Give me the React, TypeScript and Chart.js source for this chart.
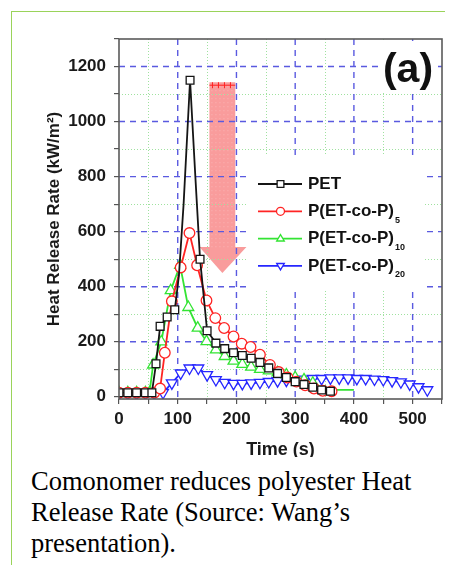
import React, { useEffect, useRef } from "react";
import { Chart, registerables } from "chart.js";

Chart.register(...registerables);

// ---- data ----
const petTime = [0, 15, 30, 45, 56, 63, 70, 82, 95, 102, 110, 121, 130, 138, 150, 165, 180, 195, 210, 225, 240, 255, 270, 285, 300, 315, 330, 345, 360];
const petHRR = [15, 15, 15, 15, 15, 120, 256, 290, 316, 440, 700, 1150, 800, 500, 240, 195, 175, 160, 150, 140, 125, 105, 85, 70, 55, 45, 35, 25, 20];
// PET points drawn without a marker in the reference (steep flanks of the peak)
const petNoMarkerTimes = [102, 110, 130];

const p5Time = [0, 15, 30, 45, 60, 70, 78, 90, 105, 120, 133, 149, 164, 179, 195, 209, 224, 240, 257, 272, 287, 302, 317, 332, 347, 362];
const p5HRR = [15, 15, 15, 15, 15, 30, 160, 347, 470, 595, 478, 350, 286, 250, 219, 193, 181, 153, 116, 90, 70, 55, 42, 30, 22, 20];

const p10Time = [0, 15, 30, 45, 52, 58, 72, 88, 104, 118, 134, 149, 165, 180, 195, 210, 225, 240, 255, 270, 285, 300, 315, 330, 345, 360, 380, 400];
const p10HRR = [15, 15, 15, 15, 15, 116, 200, 386, 478, 325, 250, 201, 171, 147, 130, 118, 108, 100, 95, 88, 80, 70, 62, 50, 35, 25, 25, 25];

const p20Time = [0, 15, 30, 45, 60, 75, 90, 105, 120, 135, 150, 165, 180, 195, 210, 225, 240, 255, 270, 285, 300, 315, 330, 345, 360, 375, 390, 405, 420, 435, 450, 465, 480, 495, 510, 525];
const p20HRR = [12, 12, 12, 12, 12, 15, 50, 86, 104, 104, 80, 62, 52, 48, 48, 50, 52, 55, 58, 60, 62, 64, 66, 66, 68, 68, 68, 66, 66, 64, 62, 58, 54, 46, 36, 25];

const seriesNames = ["PET", "P(ET-co-P)", "P(ET-co-P)", "P(ET-co-P)"];
const seriesSubs = ["", "5", "10", "20"];

const xTickValues = [0, 50, 100, 150, 200, 250, 300, 350, 400, 450, 500, 550];
const yTickValues = [0, 100, 200, 300, 400, 500, 600, 700, 800, 900, 1000, 1100, 1200, 1300];
const xMajorTicks = [100, 200, 300, 400, 500];
const xMinorTicks = [50, 150, 250, 350, 450];
const yMajorTicks = [200, 400, 600, 800, 1000, 1200];
const yMinorTicks = [100, 300, 500, 700, 900, 1100];

// arrow annotation in data units: shaft left/right, head left/right, [top, head start, tip]
const arrowShaftX = [154, 198];
const arrowHeadX = [137, 217];
const arrowY = [1143, 544, 450];

const xTitle = "Time (s)";
const yTitle = "Heat Release Rate (kW/m\u00B2)";
const panelLabel = "(a)";
const caption = "Comonomer reduces polyester Heat Release Rate (Source: Wang\u2019s presentation).";

const FONT = "'Liberation Sans', Arial, sans-serif";
const colors = ["#151515", "#ff2424", "#33e433", "#2626ff"];
const styles = ["rect", "circle", "triangle", "triangle"];
const rotations = [0, 0, 0, 180];

function toXY(xs: number[], ys: number[]) {
  return xs.map((x, i) => ({ x, y: ys[i] }));
}

function drawMarker(ctx: CanvasRenderingContext2D, style: string, rot: number, x: number, y: number, r: number) {
  ctx.beginPath();
  if (style === "rect") {
    const s = r * 0.75;
    ctx.rect(x - s, y - s, 2 * s, 2 * s);
  } else if (style === "circle") {
    ctx.arc(x, y, r, 0, Math.PI * 2);
  } else {
    const d = rot === 180 ? -1 : 1;
    ctx.moveTo(x, y - d * r);
    ctx.lineTo(x + r * 0.95, y + d * r * 0.6);
    ctx.lineTo(x - r * 0.95, y + d * r * 0.6);
    ctx.closePath();
  }
  ctx.fillStyle = "#fff";
  ctx.fill();
  ctx.stroke();
}

const backgroundPlugin = {
  id: "bgGrid",
  beforeDatasetsDraw(chart: any) {
    const { ctx, chartArea: a, scales } = chart;
    const xs = scales.x, ys = scales.y;
    ctx.save();
    ctx.beginPath();
    ctx.rect(a.left, a.top, a.right - a.left, a.bottom - a.top);
    ctx.clip();

    // arrow
    const sl = xs.getPixelForValue(arrowShaftX[0]);
    const sr = xs.getPixelForValue(arrowShaftX[1]);
    const hl = xs.getPixelForValue(arrowHeadX[0]);
    const hr = xs.getPixelForValue(arrowHeadX[1]);
    const yt = ys.getPixelForValue(arrowY[0]);
    const yh = ys.getPixelForValue(arrowY[1]);
    const ytip = ys.getPixelForValue(arrowY[2]);
    ctx.beginPath();
    ctx.moveTo(sl, yt);
    ctx.lineTo(sr, yt);
    ctx.lineTo(sr, yh);
    ctx.lineTo(hr, yh);
    ctx.lineTo((sl + sr) / 2, ytip);
    ctx.lineTo(hl, yh);
    ctx.lineTo(sl, yh);
    ctx.closePath();
    ctx.fillStyle = "rgba(246, 96, 96, 0.62)";
    ctx.fill();
    ctx.fillStyle = "rgba(255,255,255,0.25)";
    for (let yy = yt + 4; yy < yh; yy += 4) {
      for (let xx = sl + 2; xx < sr; xx += 4) ctx.fillRect(xx, yy, 1, 1);
    }
    ctx.strokeStyle = "#ff2020";
    ctx.lineWidth = 1;
    ctx.beginPath();
    ctx.moveTo(sl, yt + 3);
    ctx.lineTo(sr, yt + 3);
    for (let xx = sl + 3; xx < sr; xx += 6) {
      ctx.moveTo(xx, yt);
      ctx.lineTo(xx, yt + 6);
    }
    ctx.stroke();

    // minor green dotted grid
    ctx.strokeStyle = "#9fe29f";
    ctx.lineWidth = 1;
    ctx.setLineDash([1, 2]);
    ctx.beginPath();
    xMinorTicks.forEach((v) => {
      const px = Math.round(xs.getPixelForValue(v)) + 0.5;
      ctx.moveTo(px, a.top);
      ctx.lineTo(px, a.bottom);
    });
    yMinorTicks.forEach((v) => {
      const py = Math.round(ys.getPixelForValue(v)) + 0.5;
      ctx.moveTo(a.left, py);
      ctx.lineTo(a.right, py);
    });
    ctx.stroke();

    // major blue dashed grid
    ctx.strokeStyle = "#5a5ae0";
    ctx.lineWidth = 1.4;
    ctx.setLineDash([6, 5]);
    ctx.beginPath();
    xMajorTicks.forEach((v) => {
      const px = xs.getPixelForValue(v);
      ctx.moveTo(px, a.top);
      ctx.lineTo(px, a.bottom);
    });
    yMajorTicks.forEach((v) => {
      const py = ys.getPixelForValue(v);
      ctx.moveTo(a.left, py);
      ctx.lineTo(a.right, py);
    });
    ctx.stroke();
    ctx.setLineDash([]);

    // white boxes behind legend and panel label
    ctx.fillStyle = "#fff";
    ctx.fillRect(a.left + 129, a.top + 117, 177, 135);
    ctx.fillRect(a.right - 60, a.top + 2, 52, 50);
    ctx.restore();
  },
  afterDraw(chart: any) {
    const { ctx, chartArea: a } = chart;
    ctx.save();
    ctx.strokeStyle = "#5a5a5a";
    ctx.lineWidth = 1.6;
    ctx.strokeRect(a.left, a.top, a.right - a.left, a.bottom - a.top);

    ctx.fillStyle = "#111";
    ctx.font = `bold 41px ${FONT}`;
    ctx.textAlign = "center";
    ctx.textBaseline = "middle";
    ctx.fillText(panelLabel, a.right - 34, a.top + 32);

    ctx.font = `bold 18px ${FONT}`;
    ctx.fillStyle = "#1a1a1a";
    ctx.fillText(xTitle, (a.left + a.right) / 2, a.bottom + 51);
    ctx.save();
    ctx.font = `bold 17px ${FONT}`;
    ctx.translate(a.left - 65, (a.top + a.bottom) / 2);
    ctx.rotate(-Math.PI / 2);
    ctx.fillText(yTitle, 0, 0);
    ctx.restore();

    for (let i = 0; i < 4; i++) {
      const y = a.top + 145 + i * 27.3;
      const x0 = a.left + 139;
      ctx.strokeStyle = colors[i];
      ctx.lineWidth = 1.8;
      ctx.beginPath();
      ctx.moveTo(x0, y);
      ctx.lineTo(x0 + 44, y);
      ctx.stroke();
      ctx.lineWidth = 1.3;
      drawMarker(ctx, styles[i] as string, rotations[i], x0 + 22.5, y, i === 0 ? 4.5 : 4);
      ctx.fillStyle = "#111";
      ctx.textAlign = "left";
      ctx.textBaseline = "middle";
      ctx.font = `bold 17px ${FONT}`;
      ctx.fillText(seriesNames[i], x0 + 50, y);
      if (seriesSubs[i]) {
        const w = ctx.measureText(seriesNames[i]).width;
        ctx.font = `bold 9px ${FONT}`;
        ctx.fillText(seriesSubs[i], x0 + 51 + w, y + 9);
      }
    }
    ctx.restore();
  },
};

export default function App() {
  const canvasRef = useRef<HTMLCanvasElement | null>(null);

  useEffect(() => {
    if (!canvasRef.current) return;
    const tickFont = { family: FONT, size: 17, weight: "bold" as const };
    const makeDs = (label: string, xs: number[], ys: number[], i: number, radius: any) => ({
      label,
      data: toXY(xs, ys),
      borderColor: colors[i],
      borderWidth: 1.8,
      pointStyle: styles[i],
      rotation: rotations[i],
      pointRadius: radius,
      pointBackgroundColor: "#ffffff",
      pointBorderColor: colors[i],
      pointBorderWidth: 1.3,
      tension: 0,
      fill: false,
    });
    const chart = new Chart(canvasRef.current, {
      type: "line",
      data: {
        datasets: [
          makeDs("PET", petTime, petHRR, 0, (c: any) => (c.raw && petNoMarkerTimes.includes(c.raw.x) ? 0 : 5.5)),
          makeDs("P(ET-co-P)5", p5Time, p5HRR, 1, 5.3),
          makeDs("P(ET-co-P)10", p10Time, p10HRR, 2, (c: any) => (c.raw && c.raw.x > 340 ? 0 : 6.3)),
          makeDs("P(ET-co-P)20", p20Time, p20HRR, 3, 6.3),
        ],
      },
      options: {
        responsive: false,
        animation: false,
        devicePixelRatio: 1,
        layout: { padding: { top: 27, right: 11, left: 0, bottom: 0 } },
        plugins: { legend: { display: false }, tooltip: { enabled: false } },
        scales: {
          x: {
            type: "linear",
            min: 0,
            max: 550,
            afterBuildTicks: (s: any) => {
              s.ticks = xTickValues.map((v) => ({ value: v }));
            },
            afterFit: (s: any) => {
              s.height = 58;
            },
            ticks: {
              autoSkip: false,
              maxRotation: 0,
              padding: 5,
              color: "#1a1a1a",
              font: tickFont,
              callback: (v: any) => (Number(v) % 100 === 0 && Number(v) <= 500 ? String(v) : ""),
            },
            grid: { drawOnChartArea: false, tickLength: 5, color: "#555", lineWidth: 1.2 },
            border: { display: false },
          },
          y: {
            type: "linear",
            min: -8,
            max: 1300,
            afterBuildTicks: (s: any) => {
              s.ticks = yTickValues.map((v) => ({ value: v }));
            },
            afterFit: (s: any) => {
              s.width = 107;
            },
            ticks: {
              autoSkip: false,
              padding: 8,
              color: "#1a1a1a",
              font: tickFont,
              callback: (v: any) => (Number(v) % 200 === 0 && Number(v) <= 1200 ? String(v) : ""),
            },
            grid: { drawOnChartArea: false, tickLength: 5, color: "#555", lineWidth: 1.2 },
            border: { display: false },
          },
        },
      } as any,
      plugins: [backgroundPlugin],
    });
    return () => chart.destroy();
  }, []);

  return (
    <div style={{ position: "relative", width: 445, height: 557, overflow: "hidden" }}>
      <div
        style={{
          position: "absolute",
          left: 3,
          top: 3,
          width: 470,
          height: 580,
          borderLeft: "1.5px solid #9ad35a",
          borderTop: "1.5px solid #9ad35a",
        }}
      />
      <canvas
        ref={canvasRef}
        width={441}
        height={445}
        style={{ position: "absolute", left: 4, top: 4, width: 441, height: 445 }}
      />
      <div
        style={{
          position: "absolute",
          left: 23,
          top: 457.5,
          width: 410,
          fontFamily: "'Liberation Serif', 'Times New Roman', serif",
          fontSize: 26.5,
          lineHeight: "31px",
          color: "#000",
        }}
      >
        {caption}
      </div>
    </div>
  );
}
